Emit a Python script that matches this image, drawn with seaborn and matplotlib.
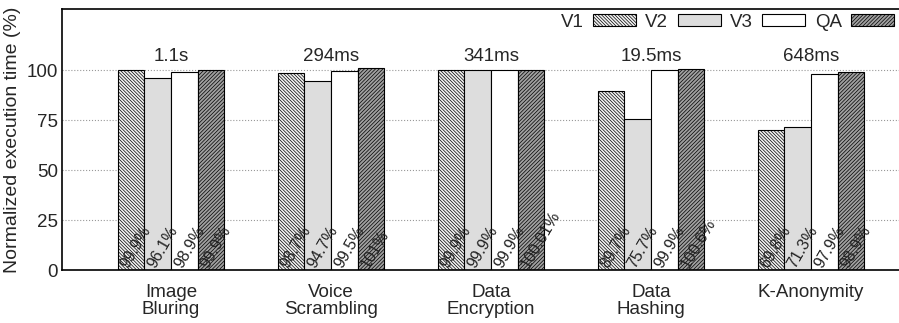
import matplotlib
matplotlib.use("Agg")
import matplotlib.pyplot as plt
import seaborn as sns
import pandas as pd

apps = ["Image\nBluring", "Voice\nScrambling", "Data\nEncryption", "Data\nHashing", "K-Anonymity"]
versions = ["V1", "V2", "V3", "QA"]
base_times = ["1.1s", "294ms", "341ms", "19.5ms", "648ms"]
v1 = [99.9, 98.7, 99.9, 89.7, 69.8]
v2 = [96.1, 94.7, 99.9, 75.7, 71.3]
v3 = [98.9, 99.5, 99.9, 99.9, 97.9]
qa = [99.9, 101.0, 100.01, 100.6, 98.9]
bar_labels = [
    ["99.9%", "98.7%", "99.9%", "89.7%", "69.8%"],
    ["96.1%", "94.7%", "99.9%", "75.7%", "71.3%"],
    ["98.9%", "99.5%", "99.9%", "99.9%", "97.9%"],
    ["99.9%", "101%", "100.01%", "100.6%", "98.9%"],
]

rows = []
for ver, vals in zip(versions, [v1, v2, v3, qa]):
    for app, v in zip(apps, vals):
        rows.append({"app": app, "version": ver, "value": v})
df = pd.DataFrame(rows)

sns.set_style("white")
plt.rcParams["font.family"] = ["Liberation Sans", "DejaVu Sans"]
plt.rcParams["hatch.linewidth"] = 0.5
plt.rcParams["hatch.color"] = "#444444"

fig, ax = plt.subplots(figsize=(8.99, 3.23), dpi=100)
fig.subplots_adjust(left=0.069, right=1.0, top=0.972, bottom=0.164)

faces = {"V1": "#f2f2f2", "V2": "#dddddd", "V3": "white", "QA": "#a0a0a0"}
hatches = {"V1": "\\" * 10, "V2": "", "V3": "", "QA": "/" * 9}

sns.barplot(data=df, x="app", y="value", hue="version", hue_order=versions,
            palette=faces, width=0.667, edgecolor="black", linewidth=0.8,
            saturation=1, ax=ax, legend=True)

for ver, cont, labs in zip(versions, ax.containers, bar_labels):
    for bar, lab in zip(cont, labs):
        bar.set_hatch(hatches[ver])
        bar.set_edgecolor("black")
        ax.text(bar.get_x() + 0.004, 3.3, lab, rotation=60, rotation_mode="anchor",
                ha="left", va="top", fontsize=11.5, color="#222222")

for i, t in enumerate(base_times):
    ax.text(i, 102.5, t, ha="center", va="bottom", fontsize=13.5)

ax.set_xlim(-0.681, 4.55)
ax.set_ylim(0, 130.5)
ax.set_yticks([0, 25, 50, 75, 100])
ax.yaxis.grid(True, linestyle=":", color="#999999", linewidth=0.8)
ax.set_axisbelow(True)
ax.tick_params(axis="both", length=0, labelsize=13.5, pad=3)
ax.tick_params(axis="x", pad=10)
for tl in ax.get_xticklabels():
    tl.set_linespacing(1.02)
ax.set_xlabel("")
ax.set_ylabel("Normalized execution time (%)", fontsize=14)
ax.spines["right"].set_visible(False)
for s in ["left", "bottom", "top"]:
    ax.spines[s].set_color("black")
    ax.spines[s].set_linewidth(1.2)

h, l = ax.get_legend_handles_labels()
for hh, ver in zip(h, versions):
    hh.set_hatch(hatches[ver])
ax.legend(h, l, ncol=4, loc="upper right", bbox_to_anchor=(1.0, 1.0),
          frameon=False, markerfirst=False, fontsize=13.5,
          handlelength=2.3, handleheight=0.55, columnspacing=0.5,
          handletextpad=0.5, borderaxespad=0.0, borderpad=0.25)

plt.savefig("out.png", dpi=100)
